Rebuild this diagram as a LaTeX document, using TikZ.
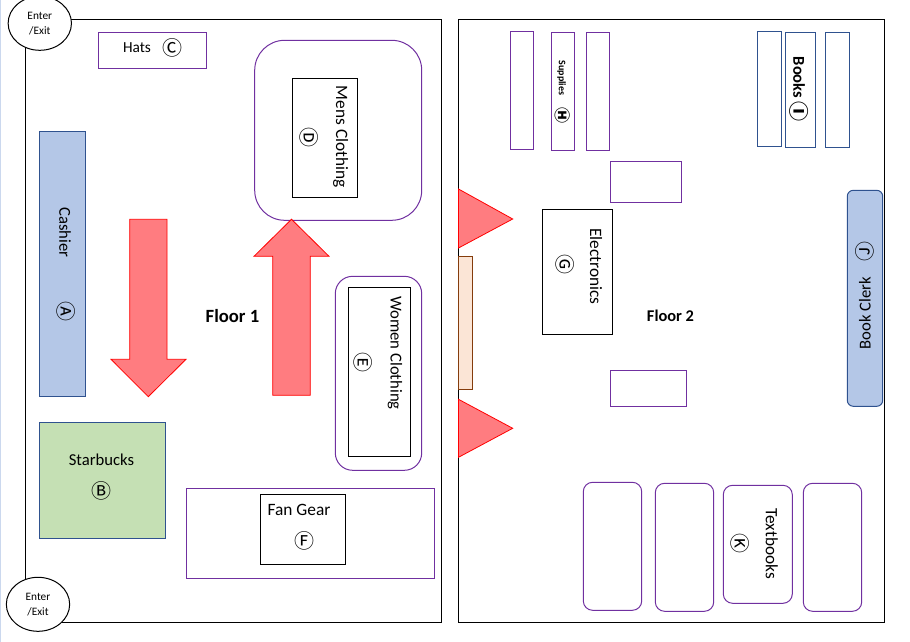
\documentclass[tikz,border=0pt]{standalone}
\usepackage{fontspec}
\usetikzlibrary{shapes.geometric}
\setmainfont{Carlito}
\newfontfamily\circfont{Noto Sans CJK JP}
\definecolor{shelfpurple}{HTML}{7030A0}
\definecolor{deskblue}{HTML}{2F528F}
\definecolor{deskfill}{HTML}{B4C7E7}
\definecolor{cafefill}{HTML}{C5E0B4}
\definecolor{arrowfill}{HTML}{FF7C80}
\definecolor{stairfill}{HTML}{FBE5D6}
\definecolor{stairline}{HTML}{843C0C}
\tikzset{every picture/.style={line width=0.75pt}}
\tikzset{
  wall/.style={draw=black},
  shelf/.style={draw=shelfpurple},
  bookshelf/.style={draw=deskblue},
  desk/.style={draw=deskblue,fill=deskfill},
  flow/.style={draw=red,fill=arrowfill,line width=0.6pt},
  placename/.style={font=\fontsize{12.5pt}{14pt}\selectfont,inner sep=0pt},
  circletter/.style={font=\fontsize{15pt}{17pt}\selectfont\circfont,inner sep=0pt},
  door/.style={draw=black,fill=white,ellipse,minimum width=47.5pt,minimum height=40.5pt,inner sep=0pt,align=center,font=\fontsize{8.5pt}{11.2pt}\selectfont}
}

\begin{document}
\begin{tikzpicture}[x=0.75pt,y=0.75pt,yscale=-1,xscale=1]
	\useasboundingbox (0,0) rectangle (910,642);
	%window edge
	\draw [line width=1pt,color=deskfill!70!white] (0.7,0) -- (0.7,642) ;

	%Floor outlines
	\draw [wall] (25.5,19.5) rectangle (441.5,622) ;
	\draw [wall] (458.5,19.5) rectangle (884.5,622) ;

	%Floor 1 shapes
	\draw [shelf] (98.3,32.3) rectangle (206.7,68.3) ;
	\draw [shelf,rounded corners=22.5pt] (254.7,40.3) rectangle (421.7,220.3) ;
	\draw [wall] (292.3,78.3) rectangle (357.7,197.3) ;
	\draw [desk] (39.3,131.3) rectangle (85.7,396.3) ;
	\draw [shelf,rounded corners=13pt] (335.3,276.3) rectangle (421.7,470.3) ;
	\draw [wall] (348.3,287.3) rectangle (410.7,456.3) ;
	\draw [desk,fill=cafefill] (39.3,422.3) rectangle (165.7,538.3) ;
	\draw [shelf] (186.3,488.3) rectangle (434.7,578.3) ;
	\draw [wall] (260.3,494.3) rectangle (345.7,564.3) ;

	%Block Arrows
	\draw [flow] (129.7,219.3) -- (167,219.3) -- (167,359.3) -- (186,359.3) -- (148.3,396.7) -- (111,359.3) -- (129.7,359.3) -- cycle ;
	\draw [flow] (272.7,395.3) -- (310.3,395.3) -- (310.3,256.3) -- (329,256.3) -- (291.5,219.3) -- (254,256.3) -- (272.7,256.3) -- cycle ;

	%Floor 2 shapes
	\draw [shelf] (510.3,31.3) rectangle (533.3,149.3) ;
	\draw [shelf] (551.3,32.3) rectangle (574.7,150.3) ;
	\draw [shelf] (586.3,32.3) rectangle (609.3,150.3) ;
	\draw [bookshelf] (757.3,31.3) rectangle (781.7,146.7) ;
	\draw [bookshelf] (785.3,32.3) rectangle (815.7,147.3) ;
	\draw [bookshelf] (825.3,32.3) rectangle (849.7,147.3) ;
	\draw [shelf] (610.3,161.3) rectangle (681.3,202.3) ;
	\draw [shelf] (610.3,370.3) rectangle (686.7,406.3) ;
	\draw [wall] (542.3,209.3) rectangle (612.7,334.3) ;
	\draw [desk,rounded corners=4.5pt] (847.3,190.3) rectangle (882.7,406.3) ;
	\draw [draw=stairline,fill=stairfill] (458.5,256.3) rectangle (472.7,389.3) ;
	\draw [flow] (458.5,189) -- (512.7,219) -- (458.5,248) -- cycle ;
	\draw [flow] (458.5,399.3) -- (512.7,428.3) -- (458.5,457.3) -- cycle ;
	\draw [shelf,rounded corners=7pt] (583.3,482.3) rectangle (641.7,610.3) ;
	\draw [shelf,rounded corners=7pt] (655.3,483.3) rectangle (713.7,611.3) ;
	\draw [shelf,rounded corners=7pt] (723.3,485.3) rectangle (792.3,603.3) ;
	\draw [shelf,rounded corners=7pt] (803.3,483.3) rectangle (861.7,611.3) ;

	%Doors
	\node [door] (doorTop) at (39.8,23.3) {Enter\\/Exit};
	\node [door] (doorBottom) at (38,604.3) {Enter\\/Exit};

	% Text Node
	\node [placename,font=\fontsize{11.5pt}{14pt}\selectfont] (hats) at (137,48) {Hats};
	\node [circletter] (letterC) at (172.5,48) {Ⓒ};
	% Text Node
	\node [placename,font=\fontsize{13pt}{15pt}\selectfont,rotate=-90] (mens) at (340.7,136.7) {Mens Clothing};
	\node [circletter,rotate=-90] (letterD) at (309.5,137.7) {Ⓓ};
	% Text Node
	\node [placename,rotate=-90] (cashier) at (65,232.5) {Cashier};
	\node [circletter,rotate=-90] (letterA) at (66,311) {Ⓐ};
	% Text Node
	\node [placename,rotate=-90] (women) at (395,353) {Women Clothing};
	\node [circletter,rotate=-90] (letterE) at (363.5,362.7) {Ⓔ};
	% Text Node
	\node [placename] (starbucks) at (101.5,459.5) {Starbucks};
	\node [circletter] (letterB) at (101.5,491) {Ⓑ};
	% Text Node
	\node [placename,font=\fontsize{13pt}{15pt}\selectfont] (fangear) at (299,510) {Fan Gear};
	\node [circletter] (letterF) at (304,541) {Ⓕ};
	% Text Node
	\node [placename,font=\fontsize{14pt}{16pt}\selectfont\bfseries] (floorOne) at (232.5,316) {Floor 1};
	\node [placename,font=\fontsize{12.3pt}{14pt}\selectfont\bfseries] (floorTwo) at (670.5,316) {Floor 2};
	% Text Node
	\node [placename,font=\fontsize{7.5pt}{9pt}\selectfont\bfseries,rotate=-90] (supplies) at (561.7,78) {Supplies};
	\node [circletter,font=\fontsize{12pt}{14pt}\selectfont\circfont\bfseries,rotate=-90] (letterH) at (562.7,116) {Ⓗ};
	% Text Node
	\node [placename,font=\fontsize{12.4pt}{14pt}\selectfont\bfseries,rotate=-90] (books) at (799,77.5) {Books};
	\node [circletter,font=\fontsize{15pt}{17pt}\selectfont\circfont\bfseries,rotate=-90] (letterI) at (799.5,112) {Ⓘ};
	% Text Node
	\node [placename,font=\fontsize{13pt}{15pt}\selectfont,rotate=-90] (electronics) at (596,266.3) {Electronics};
	\node [circletter,rotate=-90] (letterG) at (565.5,264.7) {Ⓖ};
	% Text Node
	\node [placename,rotate=90] (clerk) at (865,313) {Book Clerk};
	\node [circletter,rotate=90] (letterJ) at (865,251) {Ⓙ};
	% Text Node
	\node [placename,font=\fontsize{13pt}{15pt}\selectfont,rotate=-90] (textbooks) at (771.7,543.7) {Textbooks};
	\node [circletter,rotate=-90] (letterK) at (740.5,543.3) {Ⓚ};

\end{tikzpicture}
\end{document}
